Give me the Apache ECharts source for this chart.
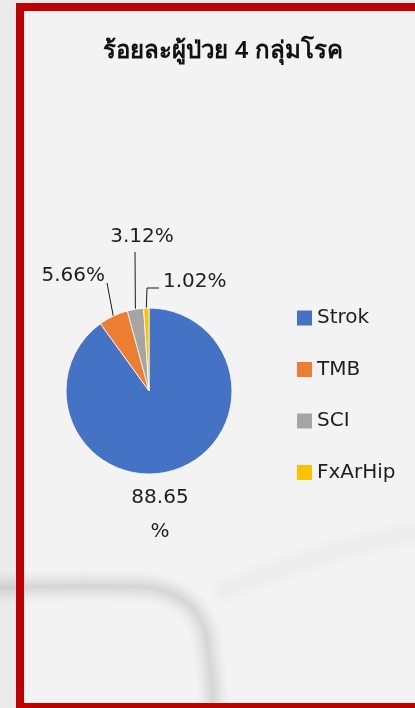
<!DOCTYPE html>
<html>
<head>
<meta charset="utf-8">
<script src="https://cdn.jsdelivr.net/npm/echarts@6/dist/echarts.min.js"></script>
<style>
  html, body { margin: 0; padding: 0; background: #ebebeb; }
  #chart { width: 415px; height: 708px; }
</style>
</head>
<body>
<div id="chart"></div>
<script>
// Share of patients in the four disease groups
const titleText = 'ร้อยละผู้ป่วย 4 กลุ่มโรค';
const categories = ['Strok', 'TMB', 'SCI', 'FxArHip'];
const values = [88.65, 5.66, 3.12, 1.02];
const sliceColors = ['#4472C4', '#ED7D31', '#A5A5A5', '#FFC000'];

// layout constants
const PIE_CENTER = [149, 391];
const PIE_RADIUS = 83;
const LABEL_FONT = '"DejaVu Sans", "Noto Sans", sans-serif';
const TEXT_COLOR = '#1f1f1f';

// where each value label sits and how its leader line bends
const labelSpots = [
  { x: 160, y: 515, align: 'center' },
  { x: 105, y: 276, align: 'right', bend: [[107, 283]] },
  { x: 142, y: 237, align: 'center', bend: [[135, 252]] },
  { x: 163, y: 282, align: 'left', bend: [[147, 288], [159, 288]] }
];

// point on the pie's rim at the middle of slice i (clockwise from 12 o'clock)
function rimPoint(i) {
  const total = values.reduce((a, b) => a + b, 0);
  let before = 0;
  for (let k = 0; k < i; k++) before += values[k];
  const theta = ((before + values[i] / 2) / total) * Math.PI * 2;
  return [PIE_CENTER[0] + PIE_RADIUS * Math.sin(theta),
          PIE_CENTER[1] - PIE_RADIUS * Math.cos(theta)];
}

const chart = echarts.init(document.getElementById('chart'), null, { renderer: 'canvas' });

const pieData = categories.map((name, i) => ({
  name: name,
  value: values[i],
  itemStyle: { color: sliceColors[i] },
  labelLine: { show: i !== 0 },
  label: i === 0 ? { lineHeight: 34, width: 90 } : { width: 120 }
}));

// soft smudges in the backdrop, each drawn as stacked faint strokes
function softStroke(points, widths, alpha, smooth) {
  return widths.map(w => ({
    type: 'polyline',
    z: -9,
    silent: true,
    shape: { points: points, smooth: smooth },
    style: { fill: null, stroke: 'rgba(0,0,0,' + alpha + ')', lineWidth: w, lineCap: 'round', lineJoin: 'round' }
  }));
}
const cornerSmudge = softStroke(
  [[-10, 588], [140, 587], [176, 596], [198, 616], [208, 648], [214, 720]],
  [30, 24, 19, 15, 11, 7, 4], 0.014, 0.4
);
const sweepSmudge = softStroke(
  [[225, 590], [320, 556], [430, 528]],
  [28, 20, 12], 0.006, 0.3
);

chart.setOption({
  backgroundColor: '#ebebeb',
  animation: false,
  title: {
    text: titleText,
    left: 218,
    top: 34,
    textAlign: 'center',
    textStyle: {
      fontSize: 24,
      fontWeight: 600,
      color: '#111',
      fontFamily: '"Noto Sans", "DejaVu Sans", sans-serif'
    }
  },
  legend: {
    orient: 'vertical',
    left: 292,
    top: 303,
    itemWidth: 15,
    itemHeight: 15,
    itemGap: 31.5,
    icon: 'rect',
    data: categories,
    itemStyle: { borderWidth: 0 },
    textStyle: {
      fontSize: 20,
      color: TEXT_COLOR,
      fontFamily: LABEL_FONT
    }
  },
  graphic: [
    {
      type: 'rect', z: -10, silent: true,
      shape: { x: 20, y: 7, width: 420, height: 700 },
      style: { fill: '#f3f3f3', stroke: null }
    },
    ...cornerSmudge,
    ...sweepSmudge,
    {
      type: 'rect', z: -8, silent: true,
      shape: { x: 20, y: 7, width: 420, height: 700 },
      style: { fill: null, stroke: '#c00000', lineWidth: 8 }
    }
  ],
  series: [{
    type: 'pie',
    center: PIE_CENTER,
    radius: PIE_RADIUS,
    startAngle: 90,
    clockwise: true,
    data: pieData,
    itemStyle: { borderColor: '#ffffff', borderWidth: 0.8 },
    emphasis: { disabled: true },
    label: {
      show: true,
      position: 'outside',
      fontSize: 20,
      color: TEXT_COLOR,
      fontFamily: LABEL_FONT,
      overflow: 'none',
      formatter: p => p.dataIndex === 0
        ? p.value.toFixed(2) + '\n%'
        : p.value.toFixed(2) + '%'
    },
    labelLine: {
      show: true,
      length: 10,
      length2: 10,
      lineStyle: { color: '#1a1a1a', width: 1 }
    },
    labelLayout: function (params) {
      const spot = labelSpots[params.dataIndex];
      const out = { x: spot.x, y: spot.y, align: spot.align, verticalAlign: 'middle' };
      if (spot.bend) {
        out.labelLinePoints = [rimPoint(params.dataIndex)].concat(spot.bend);
      }
      return out;
    }
  }]
});
</script>
</body>
</html>
